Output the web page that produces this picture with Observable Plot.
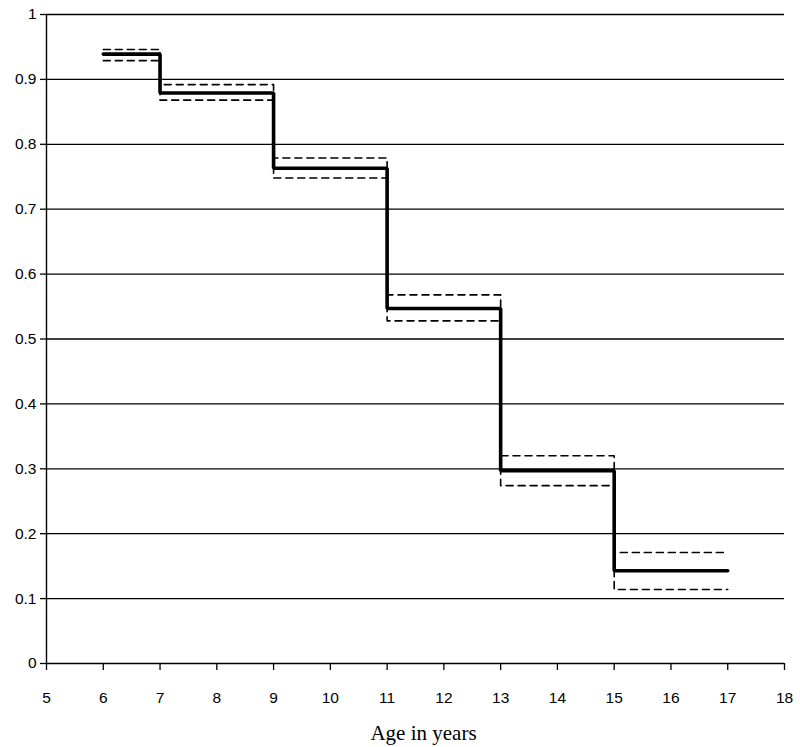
<!DOCTYPE html>
<html>
<head>
<meta charset="utf-8">
<script src="https://cdn.jsdelivr.net/npm/d3@7"></script>
<script src="https://cdn.jsdelivr.net/npm/@observablehq/plot@0.6"></script>
<style>
  html, body { margin: 0; padding: 0; background: #fff; }
  #chart svg { display: block; }
</style>
</head>
<body>
<div id="chart"></div>
<script>
const ages = [6, 7, 9, 11, 13, 15, 17];
const survival = [0.939, 0.879, 0.763, 0.547, 0.297, 0.143, 0.143];
const upperCI = [0.946, 0.892, 0.779, 0.568, 0.320, 0.171, 0.171];
const lowerCI = [0.929, 0.868, 0.748, 0.528, 0.274, 0.114, 0.114];
const xTicks = [5, 6, 7, 8, 9, 10, 11, 12, 13, 14, 15, 16, 17, 18];
const yTicks = [0, 0.1, 0.2, 0.3, 0.4, 0.5, 0.6, 0.7, 0.8, 0.9, 1];
const yTickLabels = ["0", "0.1", "0.2", "0.3", "0.4", "0.5", "0.6", "0.7", "0.8", "0.9", "1"];
const xLabel = "Age in years";

const mainData = ages.map((a, i) => ({age: a, value: survival[i]}));
const upperData = ages.map((a, i) => ({age: a, value: upperCI[i]}));
const lowerData = ages.map((a, i) => ({age: a, value: lowerCI[i]}));
const sans = "'Liberation Sans', Arial, sans-serif";

const chart = Plot.plot({
  width: 800,
  height: 747,
  marginLeft: 46,
  marginRight: 16,
  marginTop: 14,
  marginBottom: 84,
  style: {fontFamily: sans, color: "#000", background: "#fff"},
  x: {domain: [5, 18]},
  y: {domain: [0, 1]},
  marks: [
    Plot.ruleY(yTicks.filter(d => d > 0), {stroke: "#000", strokeWidth: 1.3}),
    Plot.axisY({ticks: yTicks, tickFormat: () => "", tickSize: 6, stroke: "#000", strokeWidth: 1.3, strokeOpacity: 1, label: null}),
    Plot.axisX({ticks: xTicks, tickFormat: () => "", tickSize: 7, stroke: "#000", strokeWidth: 1.3, strokeOpacity: 1, label: null}),
    Plot.text(yTicks, {y: d => d, text: (d, i) => yTickLabels[i], frameAnchor: "left", dx: -10, textAnchor: "end", lineAnchor: "middle", fontSize: 15.5, fontFamily: sans, fill: "#000", ariaLabel: "ytick-labels"}),
    Plot.text(xTicks, {x: d => d, text: d => String(d), frameAnchor: "bottom", dy: 35, textAnchor: "middle", lineAnchor: "middle", fontSize: 15.5, fontFamily: sans, fill: "#000", ariaLabel: "xtick-labels"}),
    Plot.ruleX([5], {stroke: "#000", strokeWidth: 1.4}),
    Plot.ruleY([0], {stroke: "#000", strokeWidth: 1.4}),
    Plot.line(upperData, {x: "age", y: "value", curve: "step-after", stroke: "#000", strokeWidth: 1.6, strokeDasharray: "7,5"}),
    Plot.line(lowerData, {x: "age", y: "value", curve: "step-after", stroke: "#000", strokeWidth: 1.6, strokeDasharray: "7,5"}),
    Plot.line(mainData, {x: "age", y: "value", curve: "step-after", stroke: "#000", strokeWidth: 3.6, strokeLinejoin: "miter"}),
    Plot.text([xLabel], {frameAnchor: "bottom", dy: 70, dx: 8, text: d => d, fontFamily: "'Liberation Serif', 'Times New Roman', serif", fontSize: 21, fill: "#000", lineAnchor: "middle", ariaLabel: "x-title"})
  ]
});
document.getElementById("chart").appendChild(chart);

// widen glyphs horizontally to match the reference's stretched type
function stretch(label, sx) {
  const texts = new Set();
  chart.querySelectorAll(`[aria-label="${label}"]`).forEach(el => {
    if (el.tagName.toLowerCase() === "text") texts.add(el);
    else el.querySelectorAll("text").forEach(t => texts.add(t));
  });
  texts.forEach(t => {
    let tr = t.getAttribute("transform") || "";
    const x = t.getAttribute("x"), y = t.getAttribute("y");
    if (x != null || y != null) {
      tr = `translate(${+x || 0},${+y || 0}) ` + tr;
      t.removeAttribute("x");
      t.removeAttribute("y");
    }
    t.setAttribute("transform", `${tr} scale(${sx},1)`);
  });
}
stretch("ytick-labels", 1.4);
stretch("xtick-labels", 1.4);
stretch("x-title", 1.18);
</script>
</body>
</html>
